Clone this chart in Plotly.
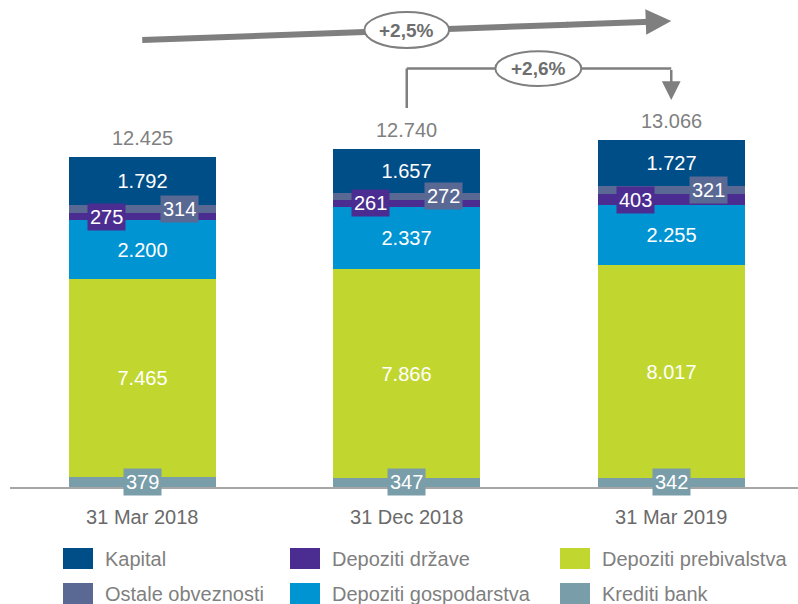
import plotly.graph_objects as go
import numpy as np

# ---------------- data ----------------
categories = ["31 Mar 2018", "31 Dec 2018", "31 Mar 2019"]
krediti_bank = [379, 347, 342]
depoziti_prebivalstva = [7465, 7866, 8017]
depoziti_gospodarstva = [2200, 2337, 2255]
depoziti_drzave = [275, 261, 403]
ostale_obveznosti = [314, 272, 321]
kapital = [1792, 1657, 1727]
totals = [12425, 12740, 13066]
growth_labels = ["+2,5%", "+2,6%"]

FONT = "Liberation Sans, Arial, sans-serif"
GRAY_TXT = "#7f7f7f"
GRAY_LINE = "#7f7f7f"

# stack order bottom -> top: (name, values, color, label style)
series = [
    ("Krediti bank", krediti_bank, "#7A9DAA", "box_center"),
    ("Depoziti prebivalstva", depoziti_prebivalstva, "#C1D72F", "inside"),
    ("Depoziti gospodarstva", depoziti_gospodarstva, "#0094D3", "inside"),
    ("Depoziti države", depoziti_drzave, "#4B2D91", "box_left"),
    ("Ostale obveznosti", ostale_obveznosti, "#5A6894", "box_right"),
    ("Kapital", kapital, "#004E88", "inside"),
]

def fmt(v):
    return f"{v:,}".replace(",", ".")

W, H = 798, 604
ML, MR, MT, MB = 10, 0, 0, 117
BAR_W = 0.556
fig = go.Figure()
annotations = []
shapes = []

base = np.zeros(len(categories))
for name, vals, color, style in series:
    vals = np.array(vals, dtype=float)
    fig.add_trace(go.Bar(
        x=categories, y=vals, name=name, width=BAR_W,
        marker=dict(color=color, line=dict(width=0)),
        texttemplate="%{y:,}" if style == "inside" else "",
        textposition="inside" if style == "inside" else "none",
        insidetextanchor="middle",
        textangle=0,
        textfont=dict(family=FONT, size=20, color="white"),
        showlegend=False, hoverinfo="skip",
    ))
    if style.startswith("box"):
        shift = {"box_center": 0, "box_left": -36, "box_right": 37}[style]
        for i, v in enumerate(vals):
            annotations.append(dict(
                x=i, y=base[i] + v / 2, xref="x", yref="y",
                text=fmt(int(v)), showarrow=False, xshift=shift,
                font=dict(family=FONT, size=20, color="white"),
                bgcolor=color, borderpad=2, xanchor="center", yanchor="middle",
            ))
    base = base + vals

# totals above bars
for i, t in enumerate(totals):
    annotations.append(dict(
        x=i, y=t, xref="x", yref="y", text=fmt(t), showarrow=False,
        yshift=19, yanchor="middle",
        font=dict(family=FONT, size=20, color=GRAY_TXT),
    ))

# --- growth arrows (decorations, in data units) ---
# long arrow from first to last bar: shaft as a shape, head via annotation
y_start, y_tip = 16830, 17546
x_mid = 1.6
y_mid = y_start + (y_tip - y_start) * (x_mid / 2.0)
shapes.append(dict(type="line", xref="x", yref="y", x0=0, x1=x_mid + 0.01,
                   y0=y_start, y1=y_mid + (y_tip - y_start) * 0.005,
                   line=dict(color=GRAY_LINE, width=6)))
annotations.append(dict(
    x=2, y=y_tip, xref="x", yref="y", ax=x_mid, ay=y_mid, axref="x", ayref="y",
    text="", showarrow=True, arrowhead=2, arrowwidth=6, arrowsize=0.85,
    arrowcolor=GRAY_LINE, standoff=0,
))
shapes.append(dict(type="circle", xref="x", yref="y",
                   x0=0.84, x1=1.16, y0=16530, y1=17880,
                   fillcolor="white", line=dict(color=GRAY_LINE, width=2), layer="above"))
annotations.append(dict(x=1.0, y=17205, xref="x", yref="y", text="<b>%s</b>" % growth_labels[0],
                        showarrow=False, font=dict(family=FONT, size=19, color="#6e6e6e")))

# elbow arrow from middle to last bar
shapes.append(dict(type="line", xref="x", yref="y", x0=1, x1=1, y0=14270, y1=15757,
                   line=dict(color=GRAY_LINE, width=2.5)))
shapes.append(dict(type="line", xref="x", yref="y", x0=1, x1=2, y0=15757, y1=15757,
                   line=dict(color=GRAY_LINE, width=2.5)))
annotations.append(dict(
    x=2, y=14571, xref="x", yref="y", ax=2, ay=15757, axref="x", ayref="y",
    text="", showarrow=True, arrowhead=2, arrowwidth=2.5, arrowsize=1.5,
    arrowcolor=GRAY_LINE, standoff=0,
))
shapes.append(dict(type="circle", xref="x", yref="y",
                   x0=1.335, x1=1.66, y0=15100, y1=16410,
                   fillcolor="white", line=dict(color=GRAY_LINE, width=2), layer="above"))
annotations.append(dict(x=1.4975, y=15757, xref="x", yref="y", text="<b>%s</b>" % growth_labels[1],
                        showarrow=False, font=dict(family=FONT, size=19, color="#6e6e6e")))

# --- manual legend (3 columns x 2 rows) ---
plot_w = W - ML - MR
plot_h = H - MT - MB
def px2paper_x(px):
    return (px - ML) / plot_w
def px2paper_y(py):
    return (H - MB - py) / plot_h

legend_layout = [
    ("Kapital", 0, 0), ("Depoziti države", 1, 0), ("Depoziti prebivalstva", 2, 0),
    ("Ostale obveznosti", 0, 1), ("Depoziti gospodarstva", 1, 1), ("Krediti bank", 2, 1),
]
col_x = [63, 290, 560]
row_y = [548, 583]
color_of = {s[0]: s[2] for s in series}
for name, c, r in legend_layout:
    x0 = col_x[c]
    y0 = row_y[r]
    shapes.append(dict(type="rect", xref="paper", yref="paper",
                       x0=px2paper_x(x0), x1=px2paper_x(x0 + 30),
                       y0=px2paper_y(y0 + 21), y1=px2paper_y(y0),
                       fillcolor=color_of[name], line=dict(width=0)))
    annotations.append(dict(
        x=px2paper_x(x0 + 40), y=px2paper_y(y0 + 10.5), xref="paper", yref="paper",
        text=name, showarrow=False, xanchor="left", yanchor="middle",
        font=dict(family=FONT, size=20, color=GRAY_TXT),
    ))

y_per_px = totals[0] / 330.0
fig.update_layout(
    width=W, height=H,
    margin=dict(l=ML, r=MR, t=MT, b=MB, pad=0),
    barmode="stack", bargap=0,
    separators=",.",
    plot_bgcolor="white", paper_bgcolor="white",
    showlegend=False,
    annotations=annotations, shapes=shapes,
    xaxis=dict(
        type="category", range=[-0.5, -0.5 + plot_w / 264.5],
        showline=True, linecolor="#a6a6a6", linewidth=2,
        showgrid=False, zeroline=False, ticks="",
        ticklabelstandoff=11,
        tickfont=dict(family=FONT, size=20, color="#6a6a6a"),
        fixedrange=True,
    ),
    yaxis=dict(
        range=[0, plot_h * y_per_px], visible=False, showgrid=False, zeroline=False,
        fixedrange=True,
    ),
)

fig.write_html(
    "out.html",
    config={"displayModeBar": False},
    post_script="document.body.style.margin='0';document.body.style.padding='0';",
)
